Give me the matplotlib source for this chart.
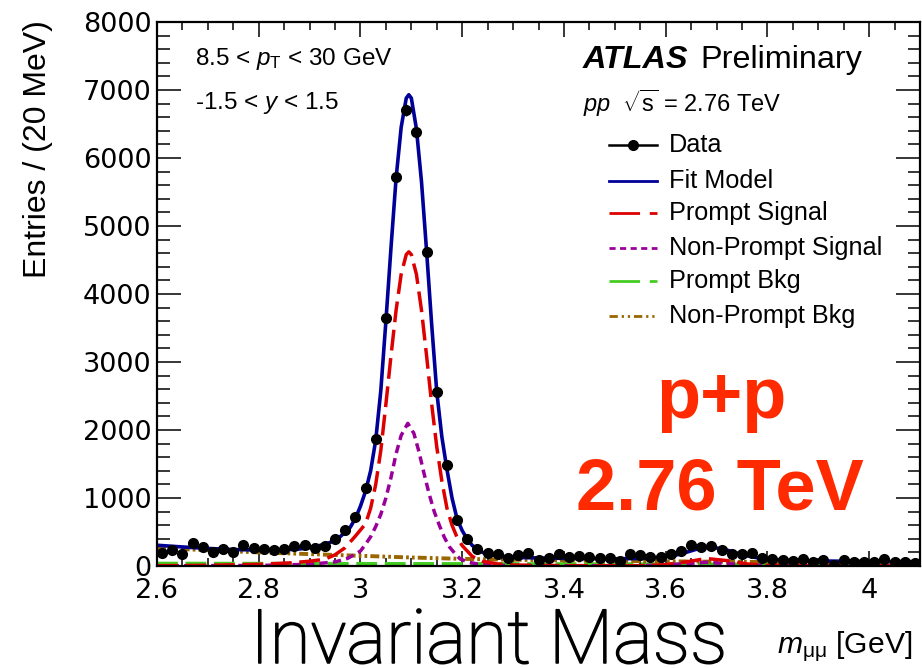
import numpy as np
import matplotlib
matplotlib.use("Agg")
import matplotlib.pyplot as plt
import matplotlib.patheffects as pe
from matplotlib.lines import Line2D
from matplotlib.ticker import MultipleLocator

plt.rcParams['font.family'] = ['Liberation Sans', 'DejaVu Sans']
plt.rcParams['mathtext.fontset'] = 'custom'
plt.rcParams['mathtext.rm'] = 'Liberation Sans'
plt.rcParams['mathtext.it'] = 'Liberation Sans:italic'
plt.rcParams['mathtext.bf'] = 'Liberation Sans:bold'

# dimuon invariant mass, 20 MeV bins
mass = np.round(np.arange(2.61, 4.10, 0.02), 3)
counts = [186, 235, 172, 333, 275, 205, 250, 205, 305, 260,
          250, 240, 255, 299, 305, 265, 300, 390, 535, 725,
          1142, 1870, 3651, 5716, 6706, 6375, 4620, 2564, 1485, 676,
          400, 255, 190, 176, 118, 162, 196, 93, 120, 174,
          137, 147, 137, 120, 112, 71, 174, 155, 127, 130,
          176, 218, 309, 280, 295, 230, 174, 180, 190, 113,
          100, 85, 70, 100, 64, 88, 22, 93, 57, 64,
          60, 100, 57, 64, 49]

# fit model total
fit_m = [2.60, 2.65, 2.70, 2.75, 2.80, 2.85, 2.88, 2.91, 2.94, 2.96,
         2.98, 2.99, 3.00, 3.01, 3.02, 3.03, 3.04, 3.05, 3.06, 3.07,
         3.08, 3.09, 3.095, 3.10, 3.11, 3.12, 3.13, 3.14, 3.15, 3.16,
         3.17, 3.18, 3.19, 3.20, 3.21, 3.22, 3.24, 3.26, 3.28, 3.30,
         3.35, 3.40, 3.45, 3.50, 3.55, 3.60, 3.62, 3.64, 3.66, 3.68,
         3.70, 3.72, 3.74, 3.76, 3.78, 3.80, 3.85, 3.90, 3.95, 4.00,
         4.05, 4.10]
fit_y = [305, 280, 258, 242, 235, 238, 250, 280, 345, 430,
         570, 700, 880, 1100, 1400, 1850, 2580, 3600, 4680, 5700,
         6450, 6880, 6930, 6880, 6430, 5650, 4630, 3550, 2560, 1900,
         1420, 1000, 690, 520, 395, 300, 200, 160, 140, 128,
         118, 112, 108, 106, 110, 135, 160, 200, 245, 272,
         265, 235, 190, 150, 120, 100, 82, 74, 70, 67,
         65, 64]

# prompt signal
ps_m = [2.60, 2.70, 2.80, 2.86, 2.90, 2.93, 2.95, 2.97, 2.99, 3.01,
        3.02, 3.03, 3.04, 3.05, 3.06, 3.07, 3.08, 3.09, 3.095, 3.10,
        3.11, 3.12, 3.13, 3.14, 3.15, 3.16, 3.17, 3.18, 3.19, 3.20,
        3.22, 3.24, 3.27, 3.30, 3.40, 3.55, 3.60, 3.64, 3.68, 3.72,
        3.76, 3.80, 3.90, 4.10]
ps_y = [5, 10, 25, 45, 70, 100, 165, 270, 440, 620,
        850, 1200, 1700, 2380, 3090, 3760, 4290, 4580, 4620, 4580,
        4290, 3760, 3090, 2380, 1750, 1250, 850, 600, 420, 300,
        140, 70, 30, 15, 5, 5, 20, 60, 110, 80,
        30, 10, 4, 2]

# non-prompt signal
nps_m = [2.60, 2.80, 2.90, 2.95, 2.975, 3.00, 3.01, 3.02, 3.03, 3.04,
         3.05, 3.06, 3.07, 3.08, 3.093, 3.105, 3.115, 3.125, 3.135, 3.145,
         3.155, 3.165, 3.175, 3.185, 3.195, 3.21, 3.23, 3.26, 3.30, 3.55,
         3.62, 3.68, 3.74, 3.80, 4.10]
nps_y = [3, 8, 25, 60, 113, 220, 320, 430, 580, 760,
         1000, 1300, 1650, 1920, 2098, 1950, 1680, 1360, 1060, 800,
         600, 420, 280, 190, 110, 60, 30, 12, 5, 3,
         25, 55, 25, 5, 2]

# backgrounds
bkg_m = [2.6, 2.7, 2.8, 2.9, 3.0, 3.1, 3.2, 3.3, 3.4, 3.5, 3.6, 3.7, 3.8, 3.9, 4.0, 4.1]
pb_y = [38, 37, 36, 35, 34, 33, 32, 31, 30, 29, 28, 27, 26, 26, 25, 25]
npb_y = [265, 232, 200, 175, 150, 125, 105, 92, 83, 76, 69, 63, 58, 54, 51, 48]

c_fit = '#000099'
c_ps = '#dd0000'
c_nps = '#990099'
c_pb = '#44cc22'
c_npb = '#996600'

W, H = 922, 668
fig = plt.figure(figsize=(W / 100, H / 100), dpi=100)


def fx(x):
    return x / W


def fy(y):
    return 1 - y / H


ax = fig.add_axes([fx(157), fy(566), fx(920) - fx(157), (566 - 22) / H])

lw = 2.5
ax.plot(bkg_m, pb_y, color=c_pb, lw=lw, dashes=(6.0, 2.2))
ax.plot(bkg_m, npb_y, color=c_npb, lw=2.8, dashes=(2.3, 0.8, 0.7, 0.8, 0.7, 0.8))
ax.plot(nps_m, nps_y, color=c_nps, lw=lw, dashes=(2.4, 1.5))
ax.plot(ps_m, ps_y, color=c_ps, lw=lw, dashes=(6.0, 2.2))
ax.plot(fit_m, fit_y, color=c_fit, lw=2.6)
ax.errorbar(mass, counts, yerr=np.sqrt(counts), fmt='o', color='black',
            ms=7, elinewidth=1.0, capsize=0, zorder=5)

ax.set_xlim(2.6, 4.1)
ax.set_ylim(0, 8000)
ax.xaxis.set_major_locator(MultipleLocator(0.2))
ax.xaxis.set_minor_locator(MultipleLocator(0.05))
ax.yaxis.set_major_locator(MultipleLocator(1000))
ax.yaxis.set_minor_locator(MultipleLocator(200))
ax.set_xticks([2.6, 2.8, 3.0, 3.2, 3.4, 3.6, 3.8, 4.0])
ax.set_xticklabels(['2.6', '2.8', '3', '3.2', '3.4', '3.6', '3.8', '4'])
for s in ax.spines.values():
    s.set_linewidth(1.6)
ax.tick_params(which='both', direction='in', top=True, right=True, width=1.1)
ax.tick_params(axis='x', which='major', length=10.5, pad=9)
ax.tick_params(axis='x', which='minor', length=5.5)
ax.tick_params(axis='y', which='major', length=17, pad=4)
ax.tick_params(axis='y', which='minor', length=9)
for lab in ax.get_xticklabels() + ax.get_yticklabels():
    lab.set_fontfamily('DejaVu Sans')
    lab.set_fontsize(19.5)

fig.text(fx(38), fy(149), 'Entries / (20 MeV)', rotation=90, fontsize=23,
         ha='center', va='center')

# kinematic selection
fig.text(fx(195), fy(65), r'8.5 < $p_{\rm T}$ < 30 GeV', fontsize=17.5, va='baseline')
fig.text(fx(195), fy(109), r'-1.5 < $y$ < 1.5', fontsize=17.5, va='baseline')

fig.text(fx(583), fy(68), 'ATLAS', fontsize=23.3, fontweight='bold',
         fontstyle='italic', va='baseline')
fig.text(fx(700), fy(68), 'Preliminary', fontsize=23.3, va='baseline')
fig.text(fx(583), fy(112), r'$pp$  $\sqrt{\rm s}$ = 2.76 TeV', fontsize=17, va='baseline')

# legend
rows = [145, 180.5, 213.5, 247.5, 281, 316]
entries = [
    ('Data', dict(color='black', lw=1.8, marker='o', ms=7, markevery=[1])),
    ('Fit Model', dict(color=c_fit, lw=2.0)),
    ('Prompt Signal', dict(color=c_ps, lw=2.0, dashes=(11, 3.5))),
    ('Non-Prompt Signal', dict(color=c_nps, lw=2.0, dashes=(2.2, 1.6))),
    ('Prompt Bkg', dict(color=c_pb, lw=2.0, dashes=(11, 3.5))),
    ('Non-Prompt Bkg', dict(color=c_npb, lw=2.0, dashes=(3, 1.4, 0.8, 1.4, 0.8, 1.4))),
]
for yrow, (label, style) in zip(rows, entries):
    fig.add_artist(Line2D([fx(609), fx(633), fx(657)], [fy(yrow)] * 3,
                          transform=fig.transFigure, **style))
    fig.text(fx(669), fy(yrow), label, fontsize=18.2, va='center')

fig.text(fx(721), fy(418), 'p+p', fontsize=52, fontweight='bold',
         color='#ff2a00', ha='center', va='baseline')
fig.text(fx(720), fy(509), '2.76 TeV', fontsize=52, fontweight='bold',
         color='#ff2a00', ha='center', va='baseline')

fig.text(fx(250), fy(663), 'Invariant Mass', fontsize=54,
         family=['Roboto', 'Liberation Sans'], fontweight='light', va='baseline',
         path_effects=[pe.withStroke(linewidth=1.1, foreground='black')])
fig.text(fx(777), fy(653), r'$m_{\mathrm{μμ}}$ [GeV]', fontsize=21.7, va='baseline')

fig.savefig('out.png', dpi=100)
